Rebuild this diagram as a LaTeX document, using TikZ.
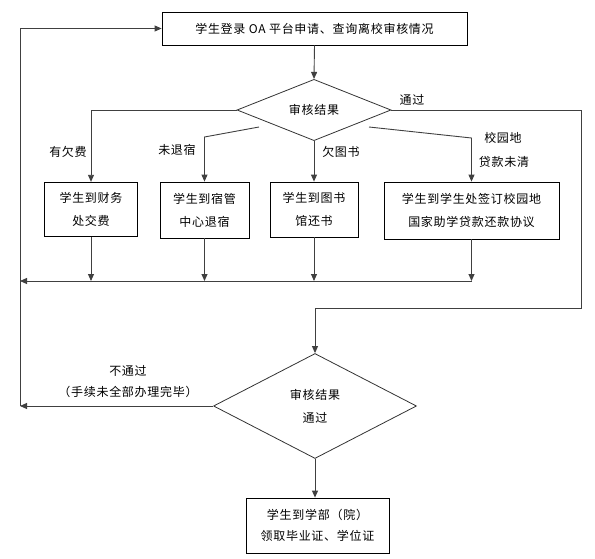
\documentclass[tikz,border=0pt]{standalone}
\usepackage{fontspec}
\setmainfont[LetterSpace=6]{Noto Sans CJK SC}
\usetikzlibrary{arrows.meta,shapes.geometric}
\begin{document}
\begin{tikzpicture}[x=1pt,y=-1pt,
  every node/.style={font=\fontsize{12}{23}\selectfont, inner sep=0pt},
  box/.style={draw=black, line width=0.8pt, rectangle, align=center},
  dia/.style={draw=black!80, line width=0.8pt, diamond, align=center},
  lbl/.style={text=black},
  arr/.style={draw=black!75, line width=0.9pt, -{Triangle[length=7pt,width=6pt]}},
  ln/.style={draw=black!75, line width=0.9pt}]
\useasboundingbox (0,0) rectangle (595,559);
% nodes
\node[box, minimum width=305pt, minimum height=33pt] (top) at (314.5,28.5) {学生登录 OA 平台申请、查询离校审核情况};
\node[dia, minimum width=154pt, minimum height=56pt] (d1) at (314,110) {审核结果};
\node[box, minimum width=93pt, minimum height=54.5pt] (b1) at (91,209.5) {学生到财务\\处交费};
\node[box, minimum width=89pt, minimum height=56pt] (b2) at (204.5,210) {学生到宿管\\中心退宿};
\node[box, minimum width=88pt, minimum height=55pt] (b3) at (314,209.5) {学生到图书\\馆还书};
\node[box, minimum width=175pt, minimum height=57pt] (b4) at (471.5,210.5) {学生到学生处签订校园地\\国家助学贷款还款协议};
\node[dia, minimum width=203pt, minimum height=105pt] (d2) at (315,406) {审核结果\\通过};
\node[box, minimum width=143pt, minimum height=55pt, font=\fontsize{12}{21}\selectfont] (b5) at (317.5,525.5) {学生到学部（院）\\领取毕业证、学位证};
% labels
\node[lbl] (t1) at (412,100) {通过};
\node[lbl] (t2) at (68,152) {有欠费};
\node[lbl] (t3) at (177,150) {未退宿};
\node[lbl] (t4) at (341,152) {欠图书};
\node[lbl] (t5) at (503,138) {校园地};
\node[lbl] (t6) at (504,162) {贷款未清};
\node[lbl] (t7) at (128,371) {不通过};
\node[lbl] (t8) at (128,392) {（手续未全部办理完毕）};
% coordinates
\coordinate (L1) at (20,28.5);
\coordinate (L2) at (20,406);
\coordinate (HL) at (20,281);
\coordinate (HR) at (472,281);
\coordinate (R) at (581,308);
\coordinate (p1) at (259,127);
\coordinate (q1) at (204.5,137);
\coordinate (p2) at (369,127);
\coordinate (q2) at (471.5,138);
% connectors
\draw[arr] (top.south) -- (d1.north);
\draw[arr] (d1.west) -| (b1.north);
\draw[arr] (p1) -- (q1) -- (b2.north);
\draw[arr] (d1.south) -- (b3.north);
\draw[arr] (p2) -- (q2) -- (b4.north);
\draw[arr] (d1.east) -| (R) -| (d2.north);
\draw[arr] (b1.south) -- (b1.south |- HL);
\draw[arr] (b2.south) -- (b2.south |- HL);
\draw[arr] (b3.south) -- (b3.south |- HL);
\draw[arr] (b4.south) -- (b4.south |- HL);
\draw[arr] (HR) -- (HL);
\draw[arr] (d2.west) -- (L2);
\draw[arr] (L2) -- (L1) -- (top.west);
\draw[arr] (d2.south) -- (d2.south |- b5.north);
\end{tikzpicture}
\end{document}
